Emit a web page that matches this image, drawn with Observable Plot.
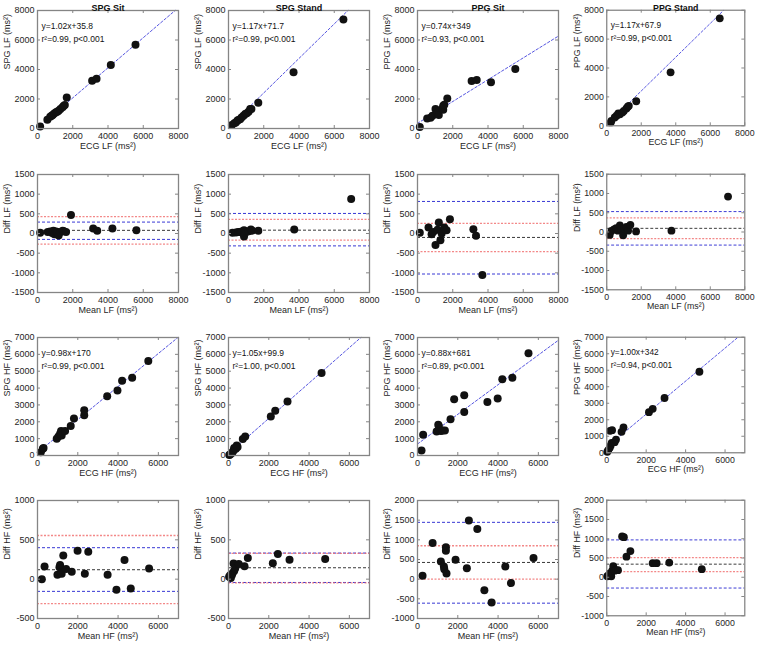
<!DOCTYPE html>
<html><head><meta charset="utf-8">
<script src="https://cdn.jsdelivr.net/npm/d3@7"></script>
<script src="https://cdn.jsdelivr.net/npm/@observablehq/plot@0.6"></script>
<style>
html,body{margin:0;padding:0;background:#fff;overflow:hidden}
#root{position:relative;width:758px;height:645px}
.panel{position:absolute}
.panel svg{overflow:visible}
</style></head><body><div id="root"></div>
<script>
// ---------- DATA ----------
const titles = ["SPG Sit", "SPG Stand", "PPG Sit", "PPG Stand"];

// Row 1: LF regression (ECG LF vs device LF)
const spgSitLF_ecg = [150, 560, 720, 800, 860, 950, 1050, 1120, 1200, 1300, 1420, 1480, 1550, 1660, 3100, 3350, 4160, 5560];
const spgSitLF_dev = [140, 590, 800, 870, 920, 1010, 1100, 1130, 1200, 1320, 1440, 1520, 1600, 2110, 3240, 3380, 4310, 5670];
const spgStandLF_ecg = [190, 330, 420, 500, 550, 660, 740, 850, 950, 1040, 1140, 1230, 1300, 1690, 3690, 6520];
const spgStandLF_dev = [230, 360, 410, 520, 570, 630, 750, 860, 980, 1040, 1130, 1320, 1330, 1750, 3810, 7390];
const ppgSitLF_ecg = [130, 550, 740, 850, 1020, 1080, 1140, 1210, 1420, 1460, 1460, 1520, 1690, 3070, 3360, 4170, 5550];
const ppgSitLF_dev = [110, 680, 730, 860, 1320, 1200, 1090, 910, 1360, 1270, 1540, 1610, 2040, 3220, 3290, 3130, 4040];
const ppgStandLF_ecg = [230, 270, 460, 570, 670, 760, 900, 990, 1140, 1220, 1280, 1710, 3700, 6550];
const ppgStandLF_dev = [230, 340, 570, 700, 860, 790, 910, 1020, 1200, 1320, 1380, 1700, 3700, 7440];
const lfFitSlope = [1.02, 1.17, 0.74, 1.17];
const lfFitIntercept = [35.8, 71.7, 349, 67.9];
const lfFitText = ["y=1.02x+35.8", "y=1.17x+71.7", "y=0.74x+349", "y=1.17x+67.9"];
const lfR2Text = ["r²=0.99, p<0.001", "r²=0.99, p<0.001", "r²=0.93, p<0.001", "r²=0.99, p<0.001"];

// Row 2: LF Bland-Altman (mean vs diff)
const spgSitLF_mean = [150, 580, 715, 830, 900, 960, 1050, 1130, 1200, 1280, 1430, 1500, 1620, 1900, 3160, 3390, 4250, 5610];
const spgSitLF_diff = [20, 40, 50, 10, 70, -20, 50, 40, -50, 30, 70, 60, 40, 470, 130, 70, 130, 80];
const spgStandLF_mean = [230, 420, 550, 650, 750, 880, 880, 950, 1040, 1150, 1270, 1350, 1690, 3730, 6960];
const spgStandLF_diff = [20, 25, 35, 40, 50, 85, -75, 30, 45, 60, 100, 70, 70, 100, 875];
const ppgSitLF_mean = [130, 625, 800, 890, 1020, 1140, 1210, 1300, 1370, 1520, 1650, 1840, 3170, 3320, 3680];
const ppgSitLF_diff = [20, 150, -20, 40, -290, 95, 280, -170, 0, 150, 85, 365, 110, -60, -1055];
const ppgStandLF_mean = [170, 270, 420, 550, 650, 760, 840, 950, 1030, 1140, 1240, 1370, 1700, 3750, 7030];
const ppgStandLF_diff = [-75, 25, 70, 100, 35, 170, 70, -85, 85, 135, 35, 185, 15, 35, 920];
const lfBias = [80, 85, -100, 95];
const lfBlueLimits = [[290, -150], [510, -315], [815, -1030], [530, -340]];
const lfRedLimits = [[430, -270], [360, -170], [255, -460], [365, -170]];

// Row 3: HF regression
const spgSitHF_ecg = [165, 265, 300, 955, 1040, 1120, 1170, 1200, 1370, 1650, 1810, 2320, 2320, 3460, 3970, 4200, 4700, 5500];
const spgSitHF_dev = [200, 400, 450, 990, 1130, 1290, 1450, 1190, 1450, 1750, 2190, 2390, 2680, 3520, 3860, 4430, 4610, 5600];
const spgStandHF_ecg = [40, 80, 150, 200, 250, 280, 365, 410, 450, 710, 830, 2100, 2320, 2930, 4620];
const spgStandHF_dev = [30, 60, 140, 200, 300, 440, 400, 600, 500, 975, 1130, 2320, 2660, 3200, 4900];
const ppgSitHF_ecg = [200, 280, 950, 1030, 1060, 1160, 1240, 1360, 1640, 1820, 2320, 2320, 3470, 3980, 4210, 4710, 5510];
const ppgSitHF_dev = [300, 1230, 1430, 1830, 1750, 1450, 1490, 1490, 2150, 3340, 3580, 2580, 3180, 3380, 4530, 4610, 6060];
const ppgStandHF_ecg = [30, 80, 150, 200, 250, 170, 270, 400, 470, 750, 850, 2140, 2330, 2930, 4700];
const ppgStandHF_dev = [60, 160, 300, 440, 600, 1330, 1370, 640, 800, 1270, 1530, 2460, 2660, 3320, 4910];
const hfFitSlope = [0.98, 1.05, 0.88, 1.00];
const hfFitIntercept = [170, 99.9, 681, 342];
const hfFitText = ["y=0.98x+170", "y=1.05x+99.9", "y=0.88x+681", "y=1.00x+342"];
const hfR2Text = ["r²=0.99, p<0.001", "r²=1.00, p<0.001", "r²=0.89, p<0.001", "r²=0.94, p<0.001"];

// Row 4: HF Bland-Altman
const spgSitHF_mean = [215, 350, 990, 1090, 1120, 1200, 1280, 1420, 1700, 1990, 2350, 2520, 3480, 3920, 4320, 4630, 5540];
const spgSitHF_diff = [0, 160, 55, 150, 180, 70, 300, 130, 95, 360, 70, 350, 55, -135, 245, -120, 135];
const spgStandHF_mean = [30, 80, 115, 165, 200, 250, 280, 330, 510, 795, 960, 2200, 2450, 3030, 4800];
const spgStandHF_diff = [30, 50, 15, 50, 75, 200, 105, 135, 193, 163, 270, 201, 321, 248, 257];
const ppgSitHF_mean = [250, 750, 1160, 1310, 1330, 1410, 1410, 1440, 1890, 2450, 2550, 2970, 3320, 3680, 4360, 4640, 5760];
const ppgSitHF_diff = [85, 920, 450, 320, 255, 810, 720, 145, 495, 280, 1490, 1275, -280, -595, 325, -100, 535];
const ppgStandHF_mean = [30, 80, 150, 200, 230, 280, 330, 400, 480, 570, 780, 870, 1000, 1200, 2330, 2530, 3170, 4820];
const ppgStandHF_diff = [25, 40, 100, 85, 25, 170, 290, 170, 185, 185, 1060, 1040, 535, 680, 365, 365, 380, 210];
const hfBias = [120, 145, 425, 340];
const hfBlueLimits = [[400, -155], [332, -42], [1445, -610], [970, -280]];
const hfRedLimits = [[555, -310], [328, -46], [850, 0], [510, 145]];

// Axis ticks
const lfTicks = [0, 2000, 4000, 6000, 8000];
const lfDiffTicks = [-1500, -1000, -500, 0, 500, 1000, 1500];
const hfXTicks = [0, 2000, 4000, 6000];
const hfYTicks = [0, 1000, 2000, 3000, 4000, 5000, 6000, 7000];
const spgHfDiffTicks = [-500, 0, 500, 1000];
const ppgHfDiffTicks = [-1000, -500, 0, 500, 1000, 1500, 2000];

// ---------- LAYOUT / STYLE ----------
const colLeft = [37, 228, 417, 607];
const rowTop = [10, 174, 337, 500];
const BW = 141, BH = 118;
const mL = 36, mR = 14, mT = 12, mB = 30;
const FONT = "'Liberation Sans', Arial, Helvetica, sans-serif";
const TXT = "#262626";
const BLUE = "#3838d4", RED = "#f06a6a", BLACK = "#383838", FITC = "#5656e0";
const root = document.getElementById("root");

function zip(a, b) { return a.map((v, i) => ({x: v, y: b[i]})); }

function fitLine(m, b, xd, yd) {
  const x2 = Math.min(xd[1], (yd[1] - b) / m);
  return [{x: xd[0], y: m * xd[0] + b}, {x: x2, y: m * x2 + b}];
}

function drawPanel(r, c, cfg) {
  const {pts, xd, yd, xt, yt, xLabel, yLabel, extra} = cfg;
  const marks = [
    ...extra,
    Plot.dot(pts, {x: "x", y: "y", r: 4, fill: "#111", stroke: "none"}),
    Plot.frame({stroke: "#858585", strokeWidth: 1.3}),
    Plot.tickX(xt, {x: d => d, insetTop: BH - 3, stroke: "#858585"}),
    Plot.tickX(xt, {x: d => d, insetBottom: BH - 3, stroke: "#858585"}),
    Plot.tickY(yt, {y: d => d, insetRight: BW - 3, stroke: "#858585"}),
    Plot.tickY(yt, {y: d => d, insetLeft: BW - 3, stroke: "#858585"}),
    Plot.axisX(xt, {tickSize: 0, tickPadding: 4, tickFormat: d => String(d), label: null, fill: TXT}),
    Plot.axisY(yt, {tickSize: 0, tickPadding: 3, tickFormat: d => String(d), label: null, fill: TXT}),
    Plot.text([xLabel], {text: d => d, frameAnchor: "bottom", dy: 20, fill: TXT, fontSize: 9}),
    Plot.text([yLabel], {text: d => d, frameAnchor: "left", dx: -30, rotate: -90, fill: TXT, fontSize: 9})
  ];
  if (r === 0) {
    marks.push(Plot.text([titles[c]], {text: d => d, frameAnchor: "top", dy: -6, fontWeight: "bold", fill: "#111", fontSize: 9}));
  }
  const chart = Plot.plot({
    width: mL + BW + mR, height: mT + BH + mB,
    marginLeft: mL, marginRight: mR, marginTop: mT, marginBottom: mB,
    x: {domain: xd}, y: {domain: yd},
    style: {fontFamily: FONT, fontSize: "9px", color: TXT, background: "transparent", overflow: "visible"},
    marks
  });
  const div = document.createElement("div");
  div.className = "panel";
  div.style.left = (colLeft[c] - mL) + "px";
  div.style.top = (rowTop[r] - mT) + "px";
  div.appendChild(chart);
  root.appendChild(div);
}

function regrExtra(m, b, xd, yd, t1, t2) {
  return [
    Plot.line(fitLine(m, b, xd, yd), {x: "x", y: "y", stroke: FITC, strokeWidth: 1, strokeDasharray: "2.5,2"}),
    Plot.text([t1 + "\n" + t2], {text: d => d, frameAnchor: "top-left", dx: 4, dy: 9.5, lineAnchor: "top", textAnchor: "start", fontSize: 8.5, lineHeight: 1.5, fill: "#111"})
  ];
}
function baExtra(bias, blue, red) {
  return [
    Plot.ruleY(blue, {y: d => d, stroke: BLUE, strokeWidth: 1, strokeDasharray: "3,2"}),
    Plot.ruleY(red, {y: d => d, stroke: RED, strokeWidth: 1.3, strokeDasharray: "2,1.5", strokeOpacity: 0.8}),
    Plot.ruleY([bias], {y: d => d, stroke: BLACK, strokeWidth: 1, strokeDasharray: "3,2"})
  ];
}

const lfReg = [[spgSitLF_ecg, spgSitLF_dev], [spgStandLF_ecg, spgStandLF_dev], [ppgSitLF_ecg, ppgSitLF_dev], [ppgStandLF_ecg, ppgStandLF_dev]];
const lfBA = [[spgSitLF_mean, spgSitLF_diff], [spgStandLF_mean, spgStandLF_diff], [ppgSitLF_mean, ppgSitLF_diff], [ppgStandLF_mean, ppgStandLF_diff]];
const hfReg = [[spgSitHF_ecg, spgSitHF_dev], [spgStandHF_ecg, spgStandHF_dev], [ppgSitHF_ecg, ppgSitHF_dev], [ppgStandHF_ecg, ppgStandHF_dev]];
const hfBA = [[spgSitHF_mean, spgSitHF_diff], [spgStandHF_mean, spgStandHF_diff], [ppgSitHF_mean, ppgSitHF_diff], [ppgStandHF_mean, ppgStandHF_diff]];
const dev = ["SPG", "SPG", "PPG", "PPG"];

for (let c = 0; c < 4; c++) {
  const lfd = [0, 8000], hfd = [0, 7000];
  drawPanel(0, c, {
    pts: zip(...lfReg[c]), xd: lfd, yd: lfd, xt: lfTicks, yt: lfTicks,
    xLabel: "ECG LF (ms²)", yLabel: dev[c] + " LF (ms²)",
    extra: regrExtra(lfFitSlope[c], lfFitIntercept[c], lfd, lfd, lfFitText[c], lfR2Text[c])
  });
  drawPanel(1, c, {
    pts: zip(...lfBA[c]), xd: lfd, yd: [-1500, 1500], xt: lfTicks, yt: lfDiffTicks,
    xLabel: "Mean LF (ms²)", yLabel: "Diff LF (ms²)",
    extra: baExtra(lfBias[c], lfBlueLimits[c], lfRedLimits[c])
  });
  drawPanel(2, c, {
    pts: zip(...hfReg[c]), xd: hfd, yd: hfd, xt: hfXTicks, yt: hfYTicks,
    xLabel: "ECG HF (ms²)", yLabel: dev[c] + " HF (ms²)",
    extra: regrExtra(hfFitSlope[c], hfFitIntercept[c], hfd, hfd, hfFitText[c], hfR2Text[c])
  });
  const isSpg = c < 2;
  drawPanel(3, c, {
    pts: zip(...hfBA[c]), xd: hfd, yd: isSpg ? [-500, 1000] : [-1000, 2000], xt: hfXTicks, yt: isSpg ? spgHfDiffTicks : ppgHfDiffTicks,
    xLabel: "Mean HF (ms²)", yLabel: "Diff HF (ms²)",
    extra: baExtra(hfBias[c], hfBlueLimits[c], hfRedLimits[c])
  });
}
</script></body></html>
